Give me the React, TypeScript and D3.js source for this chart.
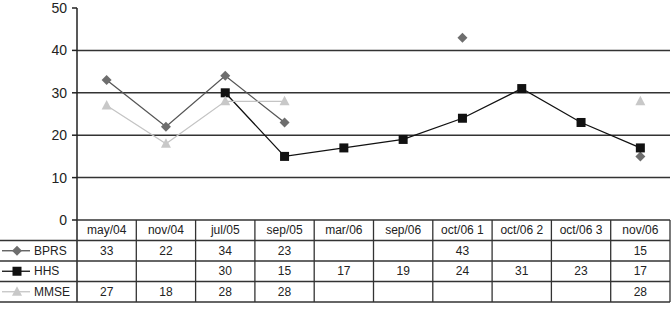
import React from "react";
import * as d3 from "d3";

const categories = ["may/04", "nov/04", "jul/05", "sep/05", "mar/06", "sep/06", "oct/06 1", "oct/06 2", "oct/06 3", "nov/06"];
const bprs = [33, 22, 34, 23, null, null, 43, null, null, 15];
const hhs = [null, null, 30, 15, 17, 19, 24, 31, 23, 17];
const mmse = [27, 18, 28, 28, null, null, null, null, null, 28];
const yTicks = [0, 10, 20, 30, 40, 50];

const series = [
  { name: "BPRS", values: bprs, line: "#555", fill: "#6e6e6e", shape: "diamond" },
  { name: "HHS", values: hhs, line: "#111", fill: "#111", shape: "square" },
  { name: "MMSE", values: mmse, line: "#c4c4c4", fill: "#c8c8c8", shape: "triangle" },
];

const W = 672;
const H = 309;
const left = 77;
const right = 670;
const top = 8;
const base = 220;
const rowH = 20.5;
const font = "'Liberation Sans', Arial, sans-serif";

function Marker({ shape, x, y, color }: { shape: string; x: number; y: number; color: string }) {
  if (shape === "square") {
    return <rect x={x - 4.5} y={y - 4.5} width={9} height={9} fill={color} />;
  }
  if (shape === "diamond") {
    return <path d={`M${x},${y - 5}L${x + 5},${y}L${x},${y + 5}L${x - 5},${y}Z`} fill={color} />;
  }
  return <path d={`M${x},${y - 5.5}L${x + 5},${y + 4}L${x - 5},${y + 4}Z`} fill={color} />;
}

export default function App() {
  const x = d3.scaleBand<string>().domain(categories).range([left, right]);
  const y = d3.scaleLinear().domain([0, 50]).range([base, top]);
  const cx = (c: string) => (x(c) ?? 0) + x.bandwidth() / 2;

  const line = d3
    .line<number | null>()
    .defined((d) => d !== null)
    .x((_, i) => cx(categories[i]))
    .y((d) => y(d as number));

  const tableBottom = base + rowH * 4;

  return (
    <svg width={W} height={H} style={{ position: "absolute", left: 0, top: 0, background: "#fff" }} fontFamily={font}>
      {/* grid */}
      {yTicks.filter((t) => t > 0 && t < 50).map((t) => (
        <line key={t} x1={left} x2={right} y1={y(t)} y2={y(t)} stroke="#333" strokeWidth={1.5} />
      ))}
      {/* y axis */}
      <line x1={left} x2={left} y1={top} y2={tableBottom} stroke="#222" strokeWidth={1.5} />
      {yTicks.map((t) => (
        <g key={t}>
          <line x1={left - 5} x2={left} y1={y(t)} y2={y(t)} stroke="#222" strokeWidth={1.5} />
          <text x={left - 10} y={y(t)} dy="0.35em" textAnchor="end" fontSize={14} fill="#222">{t}</text>
        </g>
      ))}

      {/* series */}
      {series.map((s) => (
        <g key={s.name}>
          <path d={line(s.values) ?? ""} fill="none" stroke={s.line} strokeWidth={1.3} />
          {s.values.map((v, i) =>
            v === null ? null : <Marker key={i} shape={s.shape} x={cx(categories[i])} y={y(v)} color={s.fill} />
          )}
        </g>
      ))}

      {/* data table */}
      <g stroke="#333" strokeWidth={1.3}>
        <line x1={left} x2={right} y1={base} y2={base} />
        {[1, 2, 3, 4].map((r) => (
          <line key={r} x1={0} x2={right} y1={base + r * rowH} y2={base + r * rowH} />
        ))}
        {categories.map((c) => (
          <line key={c} x1={(x(c) ?? 0) + x.bandwidth()} x2={(x(c) ?? 0) + x.bandwidth()} y1={base} y2={tableBottom} />
        ))}
      </g>
      {categories.map((c) => (
        <text key={c} x={cx(c)} y={base + rowH / 2} dy="0.35em" textAnchor="middle" fontSize={12} fill="#222">{c}</text>
      ))}
      {series.map((s, r) => {
        const ry = base + rowH * (r + 1) + rowH / 2;
        return (
          <g key={s.name}>
            <line x1={2} x2={30} y1={ry} y2={ry} stroke={s.line} strokeWidth={1.3} />
            <Marker shape={s.shape} x={17} y={ry} color={s.fill} />
            <text x={34} y={ry} dy="0.35em" fontSize={12} fill="#222">{s.name}</text>
            {s.values.map((v, i) =>
              v === null ? null : (
                <text key={i} x={cx(categories[i])} y={ry} dy="0.35em" textAnchor="middle" fontSize={12} fill="#222">{v}</text>
              )
            )}
          </g>
        );
      })}
    </svg>
  );
}
